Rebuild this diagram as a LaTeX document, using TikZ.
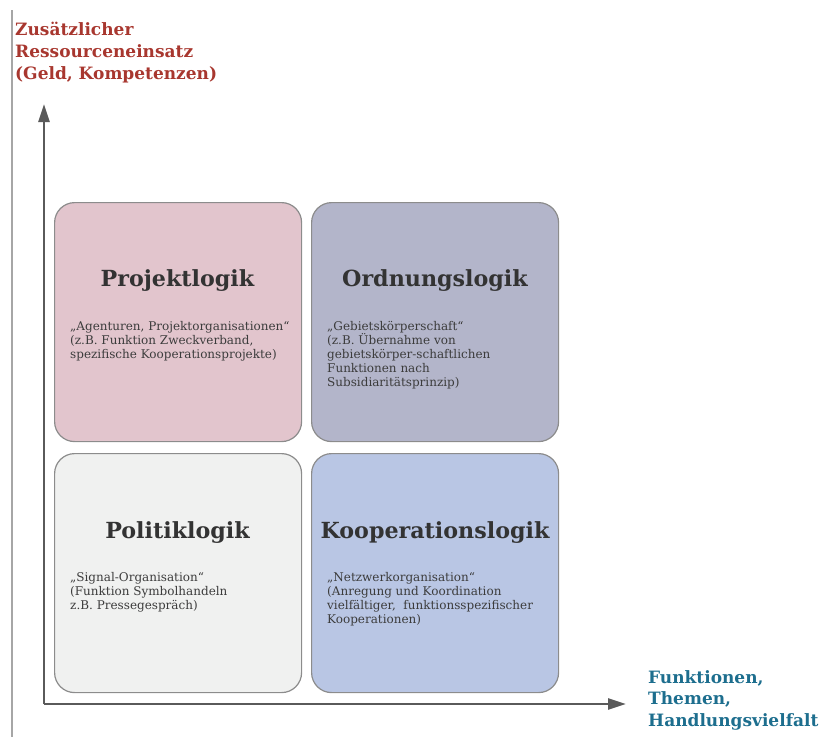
\documentclass[tikz,border=0pt]{standalone}
\usepackage{fontspec}
\setmainfont{DejaVu Serif}
\usetikzlibrary{arrows.meta}
\definecolor{axisgray}{HTML}{5A5A5A}
\definecolor{edgegray}{HTML}{8C8C8C}
\definecolor{pinkfill}{HTML}{E2C5CD}
\definecolor{violetfill}{HTML}{B3B5CA}
\definecolor{greyfill}{HTML}{F0F1F0}
\definecolor{bluefill}{HTML}{B9C6E4}
\definecolor{titlecol}{HTML}{333333}
\definecolor{textcol}{HTML}{3C3C3C}
\definecolor{redlab}{HTML}{A8372F}
\definecolor{teallab}{HTML}{1D6E8E}
\tikzset{
  quad/.style={draw=edgegray, line width=1.2pt, rounded corners=20pt, anchor=north west,
    minimum width=247pt, minimum height=239pt, inner sep=0pt},
  qtitle/.style={font=\fontsize{22.2}{26}\selectfont\bfseries, text=titlecol, inner sep=0pt},
  qtext/.style={font=\fontsize{12}{14}\selectfont, text=textcol, align=left, anchor=north west, inner sep=0pt},
  axis/.style={draw=axisgray, line width=2.5pt, -{Triangle[length=18pt,width=11pt]}},
  axlabel/.style={font=\fontsize{17}{21.8}\selectfont\bfseries, align=left, anchor=north west, inner sep=0pt}
}
\begin{document}
\begin{tikzpicture}[x=1pt,y=-1pt]
\useasboundingbox (0,0) rectangle (820,737);
% thin left rule
\coordinate (lt) at (12,10);
\coordinate (lb) at (12,737);
\draw[draw=black!35, line width=1.3pt] (lt) -- (lb);
% quadrants
\node[quad, fill=pinkfill]   (q1) at (54,202) {};
\node[quad, fill=violetfill] (q2) at (311,202) {};
\node[quad, fill=greyfill]   (q3) at (54,453) {};
\node[quad, fill=bluefill]   (q4) at (311,453) {};
% titles
\node[qtitle] (t1) at (177.5,281) {Projektlogik};
\node[qtitle] (t2) at (435,281) {Ordnungslogik};
\node[qtitle] (t3) at (177.5,533) {Politiklogik};
\node[qtitle] (t4) at (435,533) {Kooperationslogik};
% texts
\node[qtext] (d1) at (70,321) {„Agenturen, Projektorganisationen“\\(z.B. Funktion Zweckverband,\\spezifische Kooperationsprojekte)};
\node[qtext] (d2) at (327,321) {„Gebietskörperschaft“\\(z.B. Übernahme von\\gebietskörper-schaftlichen\\Funktionen nach\\Subsidiaritätsprinzip)};
\node[qtext] (d3) at (70,572) {„Signal-Organisation“\\(Funktion Symbolhandeln\\z.B. Pressegespräch)};
\node[qtext] (d4) at (327,572) {„Netzwerkorganisation“\\(Anregung und Koordination\\vielfältiger,\ \ funktionsspezifischer\\Kooperationen)};
% axes
\coordinate (o) at (44,704);
\coordinate (ytip) at (44,104);
\coordinate (xtip) at (626,704);
\draw[axis] (o) -- (ytip);
\draw[axis] (o) -- (xtip);
% axis labels
\node[axlabel, text=redlab] (yl) at (15,22) {Zusätzlicher\\Ressourceneinsatz\\(Geld, Kompetenzen)};
\node[axlabel, text=teallab] (xl) at (648,670) {Funktionen,\\Themen,\\Handlungsvielfalt};
\end{tikzpicture}
\end{document}
